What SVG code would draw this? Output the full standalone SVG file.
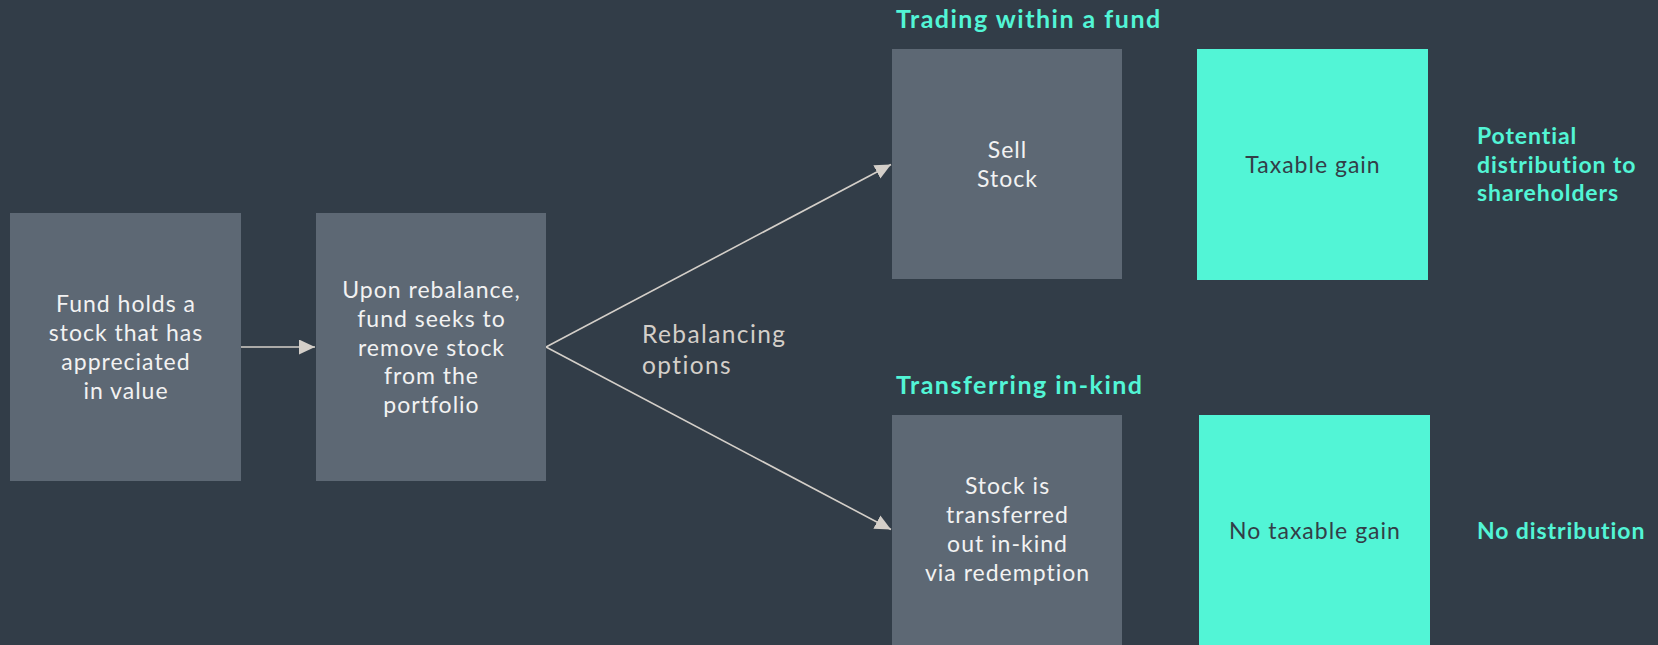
<svg xmlns="http://www.w3.org/2000/svg" width="1658" height="645" viewBox="0 0 1658 645">
<defs>
<style>
.bg{fill:#323d48}
.box{fill:#5d6874}
.teal{fill:#52f5d6}
.t{font-family:Lato,"Open Sans","Liberation Sans",sans-serif;font-size:23px;letter-spacing:1px;text-anchor:middle}
.w{fill:#f2f2f2}
.d{fill:#333e48}
.h{font-family:Lato,"Open Sans","Liberation Sans",sans-serif;font-weight:bold;fill:#52f5d6}
.h1{font-size:25px;letter-spacing:1.5px}
.h2{font-size:23px;letter-spacing:0.9px}
.lbl{font-family:Lato,"Open Sans","Liberation Sans",sans-serif;font-size:24.5px;letter-spacing:1.4px;fill:#d4cfc9}
.c{stroke:#d4cfc9;stroke-width:1.6;fill:none}
</style>
<marker id="ah" markerUnits="userSpaceOnUse" markerWidth="17" markerHeight="16" refX="16" refY="7.5" orient="auto">
<path d="M0,0 L16,7.5 L0,15 z" fill="#d4cfc9"/>
</marker>
</defs>
<rect class="bg" x="0" y="0" width="1658" height="645"/>

<g id="connectors">
<line class="c" x1="241" y1="347" x2="315" y2="347" marker-end="url(#ah)"/>
<line class="c" x1="546" y1="347" x2="891" y2="164.5" marker-end="url(#ah)"/>
<line class="c" x1="546" y1="347" x2="891" y2="529.5" marker-end="url(#ah)"/>
</g>

<g id="node-fund">
<rect class="box" x="10" y="213" width="231" height="268"/>
<text class="t w"><tspan x="126" y="312">Fund holds a</tspan><tspan x="126" y="341">stock that has</tspan><tspan x="126" y="370">appreciated</tspan><tspan x="126" y="399">in value</tspan></text>
</g>

<g id="node-rebalance">
<rect class="box" x="316" y="213" width="230" height="268"/>
<text class="t w"><tspan x="431.5" y="298">Upon rebalance,</tspan><tspan x="431.5" y="327">fund seeks to</tspan><tspan x="431.5" y="356">remove stock</tspan><tspan x="431.5" y="384">from the</tspan><tspan x="431.5" y="413">portfolio</tspan></text>
</g>

<g id="label-options">
<text class="lbl"><tspan x="642" y="343">Rebalancing</tspan><tspan x="642" y="374">options</tspan></text>
</g>

<g id="header-trading">
<text class="h h1" x="896" y="28">Trading within a fund</text>
</g>

<g id="node-sell">
<rect class="box" x="892" y="49" width="230" height="230"/>
<text class="t w"><tspan x="1007.5" y="158">Sell</tspan><tspan x="1007.5" y="187">Stock</tspan></text>
</g>

<g id="node-taxable">
<rect class="teal" x="1197" y="49" width="231" height="231"/>
<text class="t d" x="1313" y="173">Taxable gain</text>
</g>

<g id="note-potential">
<text class="h h2"><tspan x="1477" y="144">Potential</tspan><tspan x="1477" y="173">distribution to</tspan><tspan x="1477" y="201">shareholders</tspan></text>
</g>

<g id="header-transfer">
<text class="h h1" x="896" y="394">Transferring in-kind</text>
</g>

<g id="node-transfer">
<rect class="box" x="892" y="415" width="230" height="240"/>
<text class="t w"><tspan x="1007.5" y="494">Stock is</tspan><tspan x="1007.5" y="523">transferred</tspan><tspan x="1007.5" y="552">out in-kind</tspan><tspan x="1007.5" y="581">via redemption</tspan></text>
</g>

<g id="node-notaxable">
<rect class="teal" x="1199" y="415" width="231" height="240"/>
<text class="t d" x="1315" y="539">No taxable gain</text>
</g>

<g id="note-nodist">
<text class="h h2" x="1477" y="539">No distribution</text>
</g>
</svg>
